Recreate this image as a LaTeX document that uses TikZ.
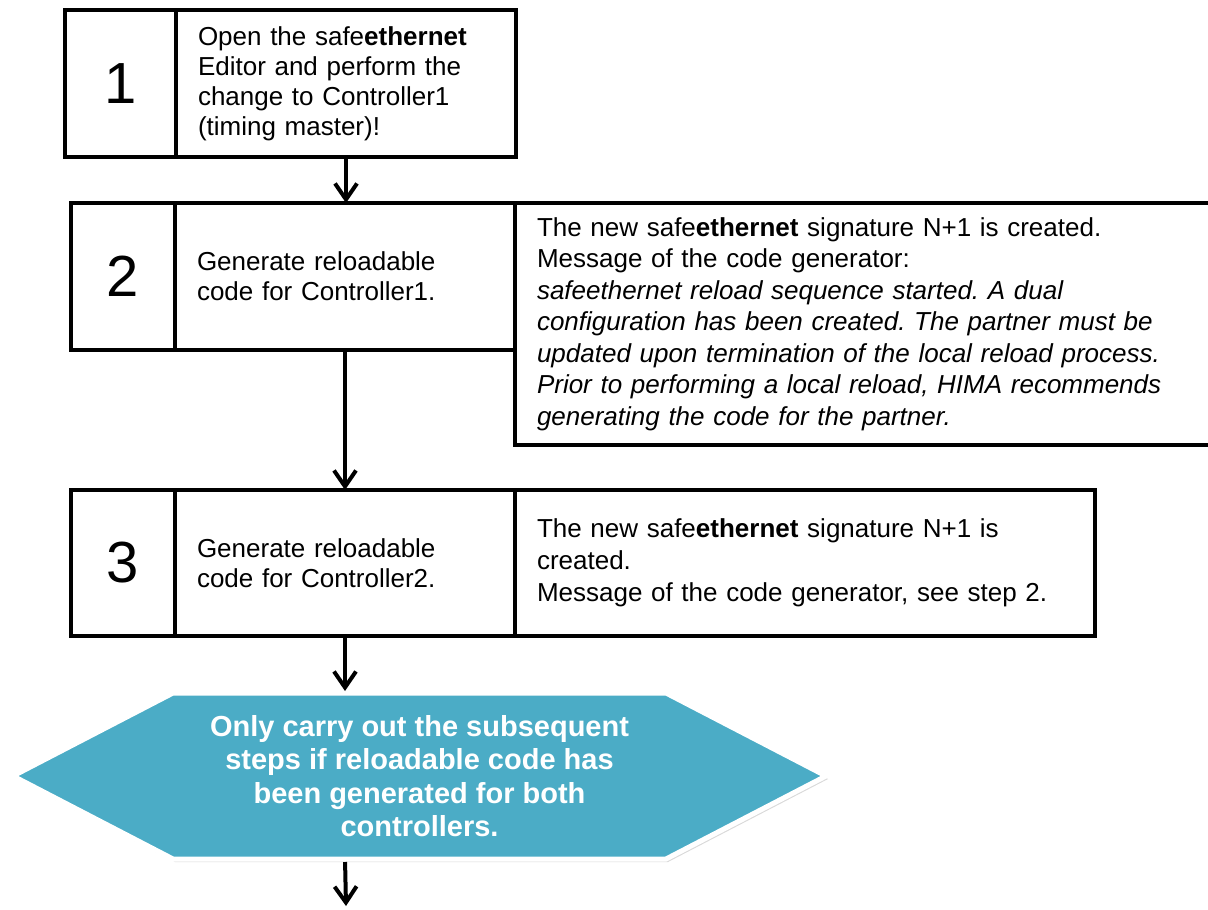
\documentclass[tikz,border=0pt]{standalone}
\usepackage{fontspec}
\setmainfont{Liberation Sans}
\usepackage{tikz}
\usetikzlibrary{arrows.meta,positioning,backgrounds,shadows}
\definecolor{hexblue}{HTML}{4BACC6}
\frenchspacing

\begin{document}
\begin{tikzpicture}[x=0.5pt, y=-0.5pt,
numbox/.style={rectangle, draw, line width=2pt, outer sep=0pt, minimum height=73.5pt, font=\fontsize{29pt}{32pt}\selectfont},
stepbox/.style={rectangle, draw, line width=2pt, outer sep=0pt, minimum height=73.5pt, inner xsep=11pt, text width=148pt, align=left, font=\fontsize{13pt}{15pt}\selectfont},
notebox/.style={rectangle, draw, line width=2pt, outer sep=0pt, inner xsep=11pt, align=left, font=\fontsize{13pt}{15.75pt}\selectfont},
hexnote/.style={rectangle, outer sep=0pt, inner sep=0pt, minimum width=246.5pt, minimum height=83pt, align=center, text=white, font=\fontsize{14.5pt}{16.75pt}\selectfont\bfseries},
hexshape/.style={fill=hexblue, draw=white, line width=2.5pt, drop shadow={opacity=0.3, shadow xshift=1pt, shadow yshift=-1.5pt}},
arrow/.style={-{Straight Barb[length=8pt, width=11pt]}, line width=2pt}
]
\useasboundingbox (0,0) rectangle (1208,909);

% Step 1
\node[numbox, minimum width=55.5pt, anchor=north west] (num1) at (65,10) {1};
\node[stepbox, right=0pt of num1] (txt1) {Open the safe\textbf{ethernet}\\Editor and perform the\\change to Controller1\\(timing master)!};

% Step 2
\node[numbox, minimum width=52pt, anchor=north west] (num2) at (71,203) {2};
\node[stepbox, right=0pt of num2] (txt2) {Generate reloadable\\code for Controller1.};
\node[notebox, text width=327pt, minimum height=121pt, right=0pt of txt2.north east, anchor=north west] (note2) {The new safe\textbf{ethernet} signature N+1 is created.\\
Message of the code generator:\\
\textit{safeethernet reload sequence started. A dual}\\
\textit{configuration has been created. The partner must be}\\
\textit{updated upon termination of the local reload process.}\\
\textit{Prior to performing a local reload, HIMA recommends}\\
\textit{generating the code for the partner.}};

% Step 3
\node[numbox, minimum width=52pt, minimum height=73pt, anchor=north west] (num3) at (71,490) {3};
\node[stepbox, minimum height=73pt, right=0pt of num3] (txt3) {Generate reloadable\\code for Controller2.};
\node[notebox, text width=268pt, minimum height=73pt, font=\fontsize{13pt}{16pt}\selectfont, right=0pt of txt3] (note3) {The new safe\textbf{ethernet} signature N+1 is\\created.\\Message of the code generator, see step 2.};

% Condition
\node[hexnote] (check) at (419.5,776) {Only carry out the subsequent\\steps if reloadable code has\\been generated for both\\controllers.};
\begin{scope}[on background layer]
\path[hexshape] (check.north west) -- (check.north east) -- ++(80pt,-41.5pt) -- (check.south east) -- (check.south west) -- ++(-80pt,41.5pt) -- cycle;
\end{scope}
\coordinate (cont) at (346,906);

% Connections
\draw[arrow] (txt1.south) -- (txt1.south |- txt2.north);
\draw[arrow] (txt2.south) -- (txt2.south |- txt3.north);
\draw[arrow, shorten >=1pt] (txt3.south) -- (txt3.south |- check.north);
\draw[arrow, shorten <=1.5pt] (txt3.south |- check.south) -- (cont);

\end{tikzpicture}
\end{document}
